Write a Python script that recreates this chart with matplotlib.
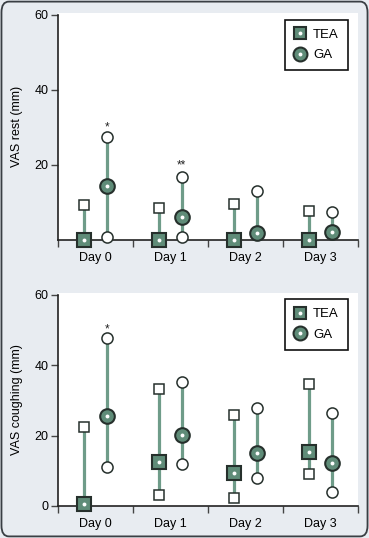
import matplotlib
matplotlib.use("Agg")
import matplotlib.pyplot as plt
from matplotlib.patches import FancyBboxPatch
from matplotlib.lines import Line2D
import numpy as np

plt.rcParams['font.family'] = ['Liberation Sans', 'DejaVu Sans']

days = ["Day 0", "Day 1", "Day 2", "Day 3"]

# VAS at rest: median and range (lower / upper)
rest_tea_med = [0, 0, 0, 0]
rest_tea_low = [0, 0, 0, 0]
rest_tea_up = [9.3, 8.4, 9.6, 7.8]
rest_ga_med = [14.4, 6.2, 1.8, 2.0]
rest_ga_low = [0.9, 0.9, 1.8, 2.0]
rest_ga_up = [27.5, 16.9, 13.1, 7.4]
rest_marks = {0: ("*", 30.0), 1: ("**", 20.0)}

# VAS coughing
cough_tea_med = [0.5, 12.6, 9.3, 15.4]
cough_tea_low = [0, 3.0, 2.2, 9.0]
cough_tea_up = [22.4, 33.3, 25.8, 34.6]
cough_ga_med = [25.6, 20.1, 15.0, 12.1]
cough_ga_low = [11.2, 11.8, 7.9, 4.1]
cough_ga_up = [47.7, 35.2, 27.8, 26.3]
cough_marks = {0: ("*", 50.2)}

GREEN = "#5f8c78"
LINE_GREEN = "#6f9c89"
EDGE = "#26302c"
BG = "#e8ecf1"


def draw_group(ax, x, med, low, up, marker, big, small):
    for xi, m, lo, hi in zip(x, med, low, up):
        ax.plot([xi, xi], [lo, hi], color=LINE_GREEN, lw=2.3, zorder=2,
                solid_capstyle="butt", clip_on=False)
        ax.plot([xi, xi], [lo, hi], ls="none", marker=marker, ms=small,
                mfc="white", mec=EDGE, mew=1.1, zorder=3, clip_on=False)
        ax.plot([xi], [m], ls="none", marker=marker, ms=big, mfc=GREEN,
                mec=EDGE, mew=1.5, zorder=4, clip_on=False)
        ax.plot([xi], [m], ls="none", marker="o", ms=2.8, mfc="white",
                mec="none", zorder=5, clip_on=False)


def panel(ax, tea, ga, marks, ylabel, yticks):
    centers = np.arange(len(days)) + 0.5
    x_tea = centers - 0.16
    x_ga = centers + 0.15
    draw_group(ax, x_tea, *tea, "s", 9.5, 7.5)
    draw_group(ax, x_ga, *ga, "o", 10.5, 8.0)
    for i, (txt, yv) in marks.items():
        ax.text(x_ga[i], yv, txt, ha="center", va="center", fontsize=8.5, color="#222222")

    ax.set_xlim(0, 4)
    ax.set_ylim(0, 60.5)
    ax.set_facecolor("white")
    for s in ["top", "right"]:
        ax.spines[s].set_visible(False)
    for s in ["left", "bottom"]:
        ax.spines[s].set_linewidth(1.2)
        ax.spines[s].set_color("#222222")
    ax.spines["left"].set_bounds(0, 60)

    ax.set_xticks(np.arange(0, 5))
    ax.set_xticklabels([])
    ax.set_xticks(centers, minor=True)
    ax.set_xticklabels(days, minor=True, fontsize=9)
    ax.tick_params(axis="x", which="major", length=5, width=1, color="#444444")
    ax.tick_params(axis="x", which="minor", length=0, pad=9)
    ax.set_yticks(yticks)
    ax.tick_params(axis="y", length=5, width=1, color="#444444", labelsize=9, pad=2)
    ax.set_ylabel(ylabel, fontsize=9, labelpad=8)

    handles = [
        Line2D([], [], ls="none", marker="s", ms=9, mfc=GREEN, mec=EDGE, mew=1.5),
        Line2D([], [], ls="none", marker="o", ms=10, mfc=GREEN, mec=EDGE, mew=1.5),
    ]
    dots = [Line2D([], [], ls="none", marker="o", ms=2.8, mfc="white", mec="none")] * 2
    leg = ax.legend([(h, d) for h, d in zip(handles, dots)], ["TEA", "GA"],
                    loc="upper right", bbox_to_anchor=(0.965, 0.97),
                    fontsize=9.5, fancybox=False, framealpha=1,
                    edgecolor="#111111", handlelength=1.0, handletextpad=0.5,
                    borderpad=0.65, labelspacing=0.65, borderaxespad=0)
    leg.get_frame().set_linewidth(1.2)


fig = plt.figure(figsize=(3.69, 5.38), dpi=100)
fig.patch.set_facecolor(BG)
frame = FancyBboxPatch((0.004, 0.003), 0.992, 0.994, boxstyle="round,pad=0,rounding_size=0.02",
                       transform=fig.transFigure, facecolor=BG, edgecolor="#3a3f44",
                       linewidth=1.3, zorder=-10)
fig.patches.append(frame)

ax1 = fig.add_axes([58 / 369, 298 / 538, 300 / 369, 227 / 538])
ax2 = fig.add_axes([58 / 369, 32 / 538, 300 / 369, 213 / 538])

panel(ax1, (rest_tea_med, rest_tea_low, rest_tea_up),
      (rest_ga_med, rest_ga_low, rest_ga_up), rest_marks, "VAS rest (mm)", [20, 40, 60])
panel(ax2, (cough_tea_med, cough_tea_low, cough_tea_up),
      (cough_ga_med, cough_ga_low, cough_ga_up), cough_marks, "VAS coughing (mm)", [0, 20, 40, 60])

fig.savefig("out.png", dpi=100, facecolor=BG)
